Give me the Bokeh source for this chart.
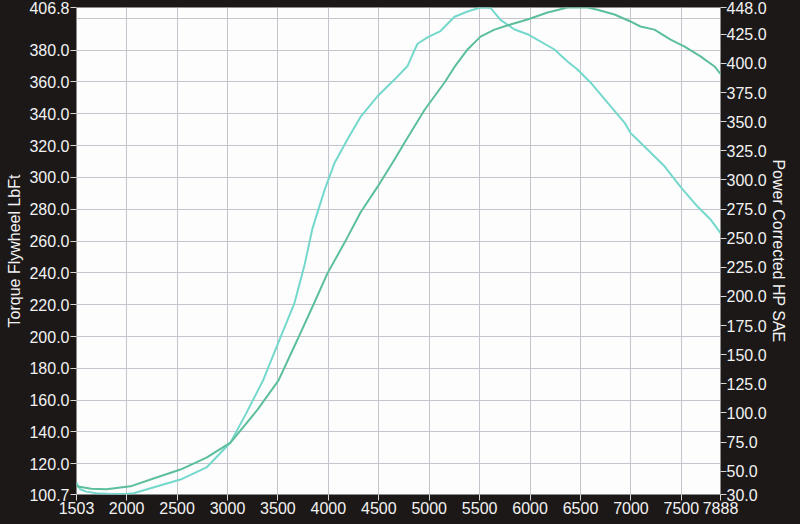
from bokeh.plotting import figure
from bokeh.models import Range1d, LinearAxis, FixedTicker, NumeralTickFormatter
from bokeh.embed import file_html
from bokeh.resources import INLINE

# Torque curve (left axis, lb-ft)
torque_rpm = [1503, 1540, 1600, 1700, 1850, 2000, 2070, 2296, 2534, 2792, 3030, 3188,
              3357, 3516, 3664, 3764, 3843, 3962, 4061, 4190, 4319, 4487, 4656, 4785,
              4840, 4884, 4983, 5112, 5251, 5380, 5509, 5608, 5707, 5846, 5975, 6242, 6371,
              6470, 6599, 6768, 6936, 6995, 7164, 7333, 7492, 7660, 7789, 7888]
torque = [108, 104, 102.5, 101.5, 101, 101, 101.5, 105.7, 110.1, 117.7, 133.4, 152,
          173, 198, 221, 245, 268, 292, 309, 324, 338, 351, 361.5, 370,
          378, 384, 388, 392, 401, 404.3, 406.8, 406.5, 399, 393, 390, 380.4, 372.9,
          367.8, 359.7, 347, 334.5, 328, 317.5, 307, 294, 281.7, 273.6, 265]

# Power curve (right axis, HP)
power_rpm = [1503, 1650, 1800, 2038, 2296, 2534, 2792, 3030, 3300, 3506, 3694, 3863,
             3992, 4160, 4319, 4487, 4656, 4755, 4953, 5152, 5251, 5380, 5509, 5647,
             5806, 5975, 6173, 6371, 6569, 6668, 6837, 6995, 7094, 7233, 7393, 7532,
             7690, 7829, 7888]
power = [37, 35, 34.5, 37, 44.6, 51.4, 61.7, 74.6, 103, 128, 163, 195,
         220, 246, 272, 294, 317.5, 332, 360, 383.6, 397, 412, 423, 429,
         433.4, 437.7, 443.7, 448, 448, 446, 442, 436, 431.7, 429, 420.5, 414.5,
         406, 397.4, 391]

x_ticks = [1503, 2000, 2500, 3000, 3500, 4000, 4500, 5000, 5500, 6000, 6500, 7000, 7500, 7888]
x_grid = [2000, 2500, 3000, 3500, 4000, 4500, 5000, 5500, 6000, 6500, 7000, 7500]
left_ticks = [100.7, 120, 140, 160, 180, 200, 220, 240, 260, 280, 300, 320, 340, 360, 380, 406.8]
left_grid = [120, 140, 160, 180, 200, 220, 240, 260, 280, 300, 320, 340, 360, 380, 400]
right_ticks = [30, 50, 75, 100, 125, 150, 175, 200, 225, 250, 275, 300, 325, 350, 375, 400, 425, 448]

BG = "#1c1818"
FONT = "Liberation Sans"

p = figure(frame_width=644, frame_height=487, output_backend="svg", toolbar_location=None,
           x_range=Range1d(1503, 7888), y_range=Range1d(100.7, 406.8),
           min_border_top=7, min_border_left=76, min_border_right=0, min_border_bottom=0)
p.extra_y_ranges = {"hp": Range1d(30, 448)}
p.background_fill_color = "#fdfdfd"
p.border_fill_color = BG
p.outline_line_color = None

p.xgrid.ticker = FixedTicker(ticks=x_grid)
p.ygrid.ticker = FixedTicker(ticks=left_grid)
for g in (p.xgrid[0], p.ygrid[0]):
    g.grid_line_color = "#c4c4cc"
    g.grid_line_width = 1

p.xaxis.ticker = FixedTicker(ticks=x_ticks)
p.xaxis.formatter = NumeralTickFormatter(format="0")
p.yaxis.ticker = FixedTicker(ticks=left_ticks)
p.yaxis.formatter = NumeralTickFormatter(format="0.0")
p.yaxis.axis_label = "Torque Flywheel LbFt"

ax_r = LinearAxis(y_range_name="hp", ticker=FixedTicker(ticks=right_ticks),
                  formatter=NumeralTickFormatter(format="0.0"),
                  axis_label="Power Corrected HP SAE")
p.add_layout(ax_r, "right")

for ax in p.xaxis + p.yaxis:
    ax.axis_line_color = None
    ax.major_tick_line_color = "#d8d8d8"
    ax.major_tick_out = 6
    ax.major_tick_in = 0
    ax.minor_tick_line_color = None
    ax.major_label_text_color = "#f2f2f2"
    ax.major_label_text_font = FONT
    ax.major_label_text_font_size = "16px"
    ax.major_label_standoff = 1
    ax.axis_label_text_color = "#f2f2f2"
    ax.axis_label_text_font = FONT
    ax.axis_label_text_font_size = "16px"
    ax.axis_label_text_font_style = "normal"
    ax.axis_label_standoff = 3

ax_r.major_label_standoff = 0
ax_r.axis_label_standoff = 0

p.line(torque_rpm, torque, line_color="#74d8cc", line_width=2)
p.line(power_rpm, power, line_color="#5cbf9c", line_width=2, y_range_name="hp")

html = file_html(p, INLINE)
html = html.replace("<head>", "<head><style>body{background:#1c1818;}</style>", 1)
open("out.html", "w").write(html)
